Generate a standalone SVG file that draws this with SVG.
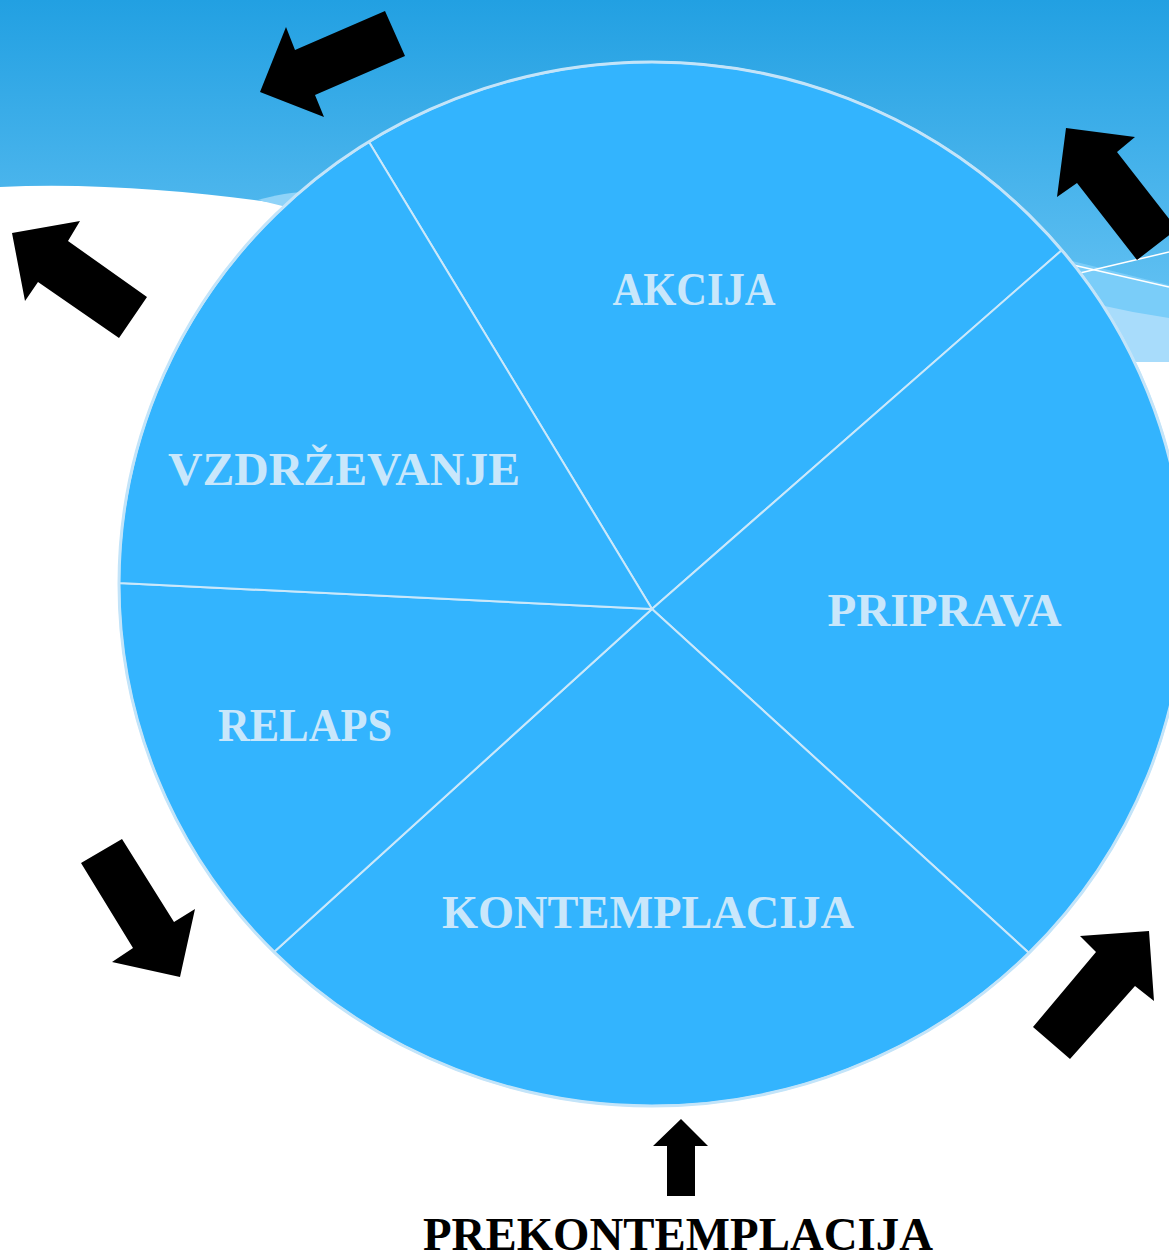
<svg xmlns="http://www.w3.org/2000/svg" width="1169" height="1259" viewBox="0 0 1169 1259">
  <defs>
    <linearGradient id="sky" x1="0" y1="0" x2="0" y2="370" gradientUnits="userSpaceOnUse">
      <stop offset="0" stop-color="#22a0e2"/>
      <stop offset="1" stop-color="#70c8f6"/>
    </linearGradient>
  </defs>
  <style>
    .slice { fill: #33b4fe; stroke: #cbe8fa; stroke-width: 2; stroke-linejoin: round; }
    .rim { fill: none; stroke: #c3e4f9; stroke-width: 3; }
    .lbl { font-family: "Liberation Serif", "DejaVu Serif", serif; font-weight: bold; font-size: 46px; fill: #c9e7fb; text-anchor: middle; }
    .cap { font-family: "Liberation Serif", "DejaVu Serif", serif; font-weight: bold; font-size: 47px; fill: #000000; text-anchor: middle; }
    .arrow { fill: #000000; }
  </style>

  <g id="background">
    <rect x="0" y="0" width="1169" height="1259" fill="#ffffff"/>
    <path d="M0,0 H1169 V362 C900,330 600,250 400,222 C300,206 150,180 0,187 Z" fill="url(#sky)"/>
    <path d="M258,200 C275,195 292,192 315,191 L315,214 Z" fill="#8fd3f8"/>
    <path d="M1060,258 L1169,285 L1169,362 L1110,362 Z" fill="#7acdf9"/>
    <path d="M1095,304 L1133,312 L1169,318 L1169,362 L1125,362 Z" fill="#a8dcfb"/>
    <line x1="1073" y1="265" x2="1169" y2="287" stroke="#ffffff" stroke-width="1.5"/>
    <line x1="1080" y1="273" x2="1169" y2="252" stroke="#ffffff" stroke-width="1.5"/>
  </g>

  <g id="slice-akcija">
    <path class="slice" d="M652,609 L369,142 A533,522 0 0 1 1062,250 Z"/>
    <text class="lbl" x="694" y="305" textLength="163" lengthAdjust="spacingAndGlyphs">AKCIJA</text>
  </g>
  <g id="slice-priprava">
    <path class="slice" d="M652,609 L1062,250 A533,522 0 0 1 1029,953 Z"/>
    <text class="lbl" x="944.5" y="626" textLength="234" lengthAdjust="spacingAndGlyphs">PRIPRAVA</text>
  </g>
  <g id="slice-kontemplacija">
    <path class="slice" d="M652,609 L1029,953 A533,522 0 0 1 274,952 Z"/>
    <text class="lbl" x="648" y="928" textLength="412" lengthAdjust="spacingAndGlyphs">KONTEMPLACIJA</text>
  </g>
  <g id="slice-relaps">
    <path class="slice" d="M652,609 L274,952 A533,522 0 0 1 119,583 Z"/>
    <text class="lbl" x="305" y="741" textLength="174" lengthAdjust="spacingAndGlyphs">RELAPS</text>
  </g>
  <g id="slice-vzdrzevanje">
    <path class="slice" d="M652,609 L119,583 A533,522 0 0 1 369,142 Z"/>
    <text class="lbl" x="344" y="485" textLength="352" lengthAdjust="spacingAndGlyphs">VZDRŽEVANJE</text>
  </g>
  <g id="rim">
    <ellipse class="rim" cx="652" cy="584" rx="533" ry="522"/>
  </g>

  <g id="prekontemplacija">
    <text class="cap" x="678" y="1250" textLength="510" lengthAdjust="spacingAndGlyphs">PREKONTEMPLACIJA</text>
  </g>

  <g id="connectors">
    <polygon class="arrow" points="681,1119 708,1146 695,1146 695,1196 667,1196 667,1146 653,1146"/>
    <polygon class="arrow" points="1033,1027 1096,952 1080,936 1149,931 1154,1001 1135,986 1070,1059"/>
    <polygon class="arrow" points="1066,128 1135,137 1117,152 1177,229 1137,260 1077,183 1057,197"/>
    <polygon class="arrow" points="385,11 405,56 315,95 324,117 260,92 286,27 295,50"/>
    <polygon class="arrow" points="12,233 80,221 68,241 147,297 119,338 38,282 25,301"/>
    <polygon class="arrow" points="81,863 122,839 174,922 195,909 180,977 112,962 133,948"/>
  </g>
</svg>
